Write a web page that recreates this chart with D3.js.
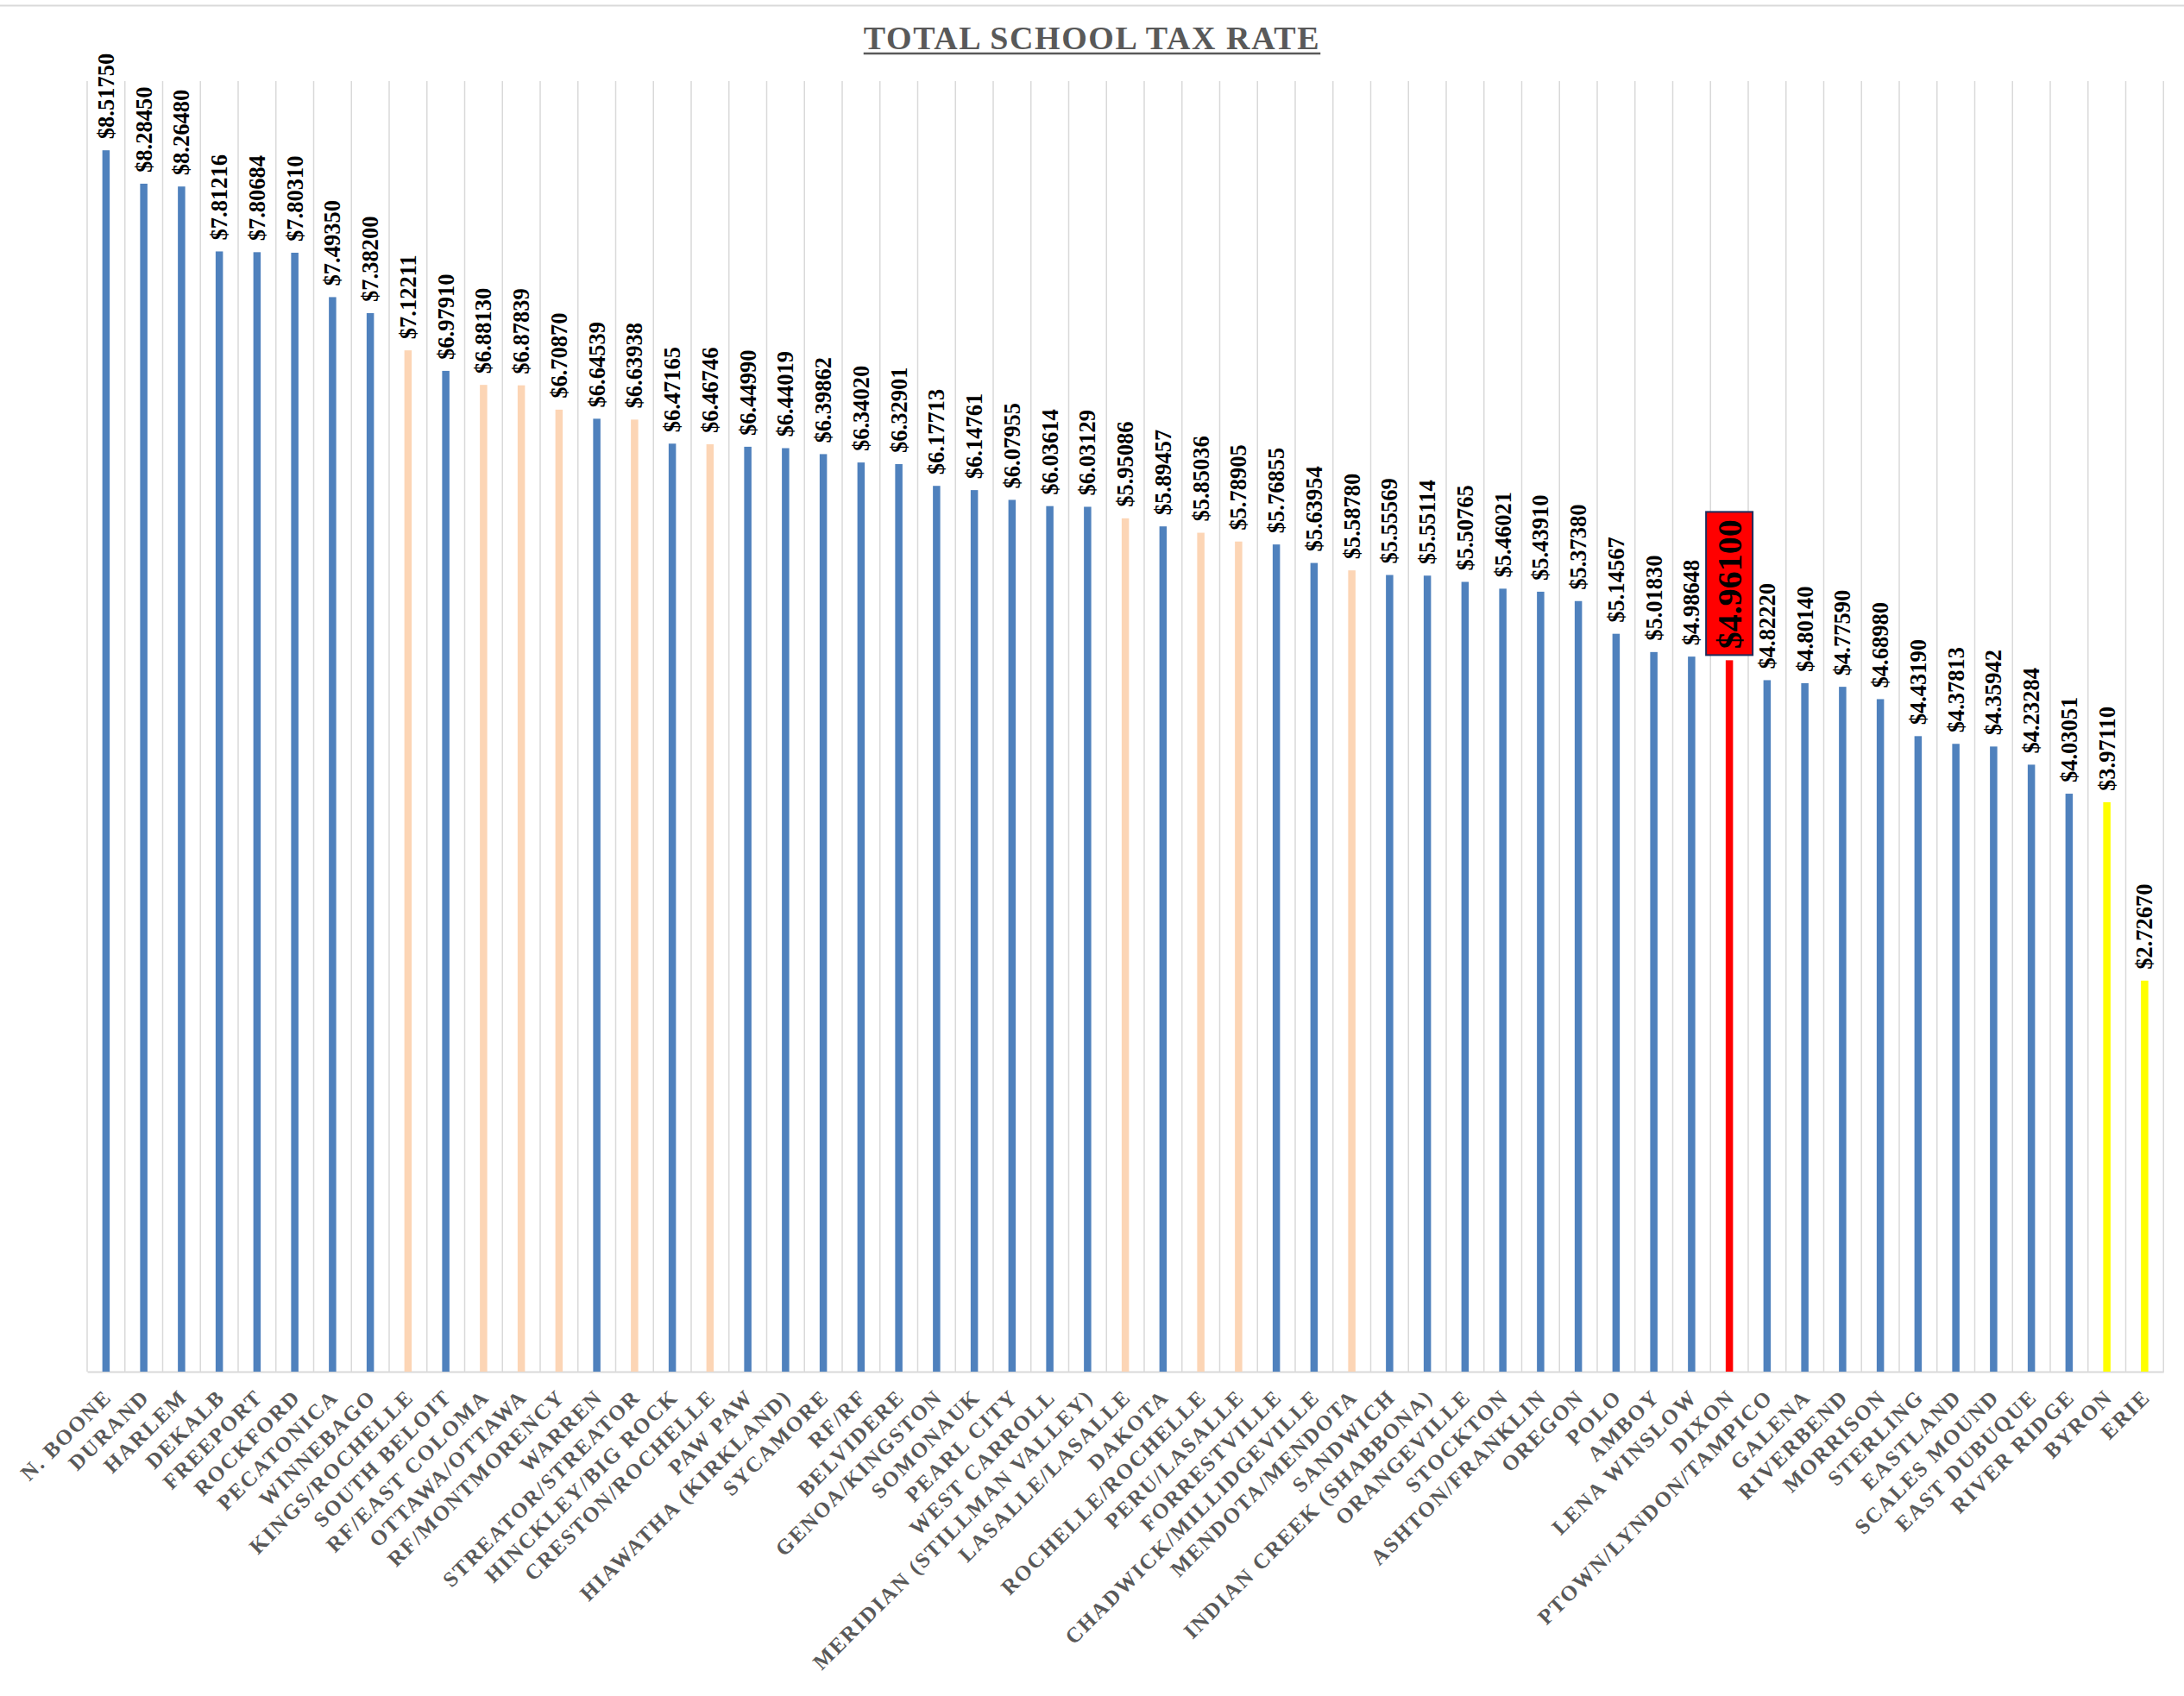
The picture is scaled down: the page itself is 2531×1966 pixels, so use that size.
<!DOCTYPE html>
<html>
<head>
<meta charset="utf-8">
<script src="https://cdn.jsdelivr.net/npm/d3@7"></script>
<style>
  body { margin: 0; background: #fff; }
  text { font-family: "Liberation Serif", "Times New Roman", serif; font-weight: bold; }
</style>
</head>
<body>
<svg id="main"></svg>
<script>
// districts, highest to lowest
var districts = ["N. BOONE","DURAND","HARLEM","DEKALB","FREEPORT","ROCKFORD","PECATONICA","WINNEBAGO",
  "KINGS/ROCHELLE","SOUTH BELOIT","RF/EAST COLOMA","OTTAWA/OTTAWA","RF/MONTMORENCY","WARREN",
  "STREATOR/STREATOR","HINCKLEY/BIG ROCK","CRESTON/ROCHELLE","PAW PAW","HIAWATHA (KIRKLAND)","SYCAMORE",
  "RF/RF","BELVIDERE","GENOA/KINGSTON","SOMONAUK","PEARL CITY","WEST CARROLL","MERIDIAN (STILLMAN VALLEY)",
  "LASALLE/LASALLE","DAKOTA","ROCHELLE/ROCHELLE","PERU/LASALLE","FORRESTVILLE","CHADWICK/MILLIDGEVILLE",
  "MENDOTA/MENDOTA","SANDWICH","INDIAN CREEK (SHABBONA)","ORANGEVILLE","STOCKTON","ASHTON/FRANKLIN",
  "OREGON","POLO","AMBOY","LENA WINSLOW","DIXON","PTOWN/LYNDON/TAMPICO","GALENA","RIVERBEND","MORRISON",
  "STERLING","EASTLAND","SCALES MOUND","EAST DUBUQUE","RIVER RIDGE","BYRON","ERIE"];

var rates = [8.51750,8.28450,8.26480,7.81216,7.80684,7.80310,7.49350,7.38200,
  7.12211,6.97910,6.88130,6.87839,6.70870,6.64539,
  6.63938,6.47165,6.46746,6.44990,6.44019,6.39862,
  6.34020,6.32901,6.17713,6.14761,6.07955,6.03614,6.03129,
  5.95086,5.89457,5.85036,5.78905,5.76855,5.63954,
  5.58780,5.55569,5.55114,5.50765,5.46021,5.43910,
  5.37380,5.14567,5.01830,4.98648,4.96100,4.82220,4.80140,4.77590,4.68980,
  4.43190,4.37813,4.35942,4.23284,4.03051,3.97110,2.72670];

// which group each bar belongs to
var groups = ["a","a","a","a","a","a","a","a",
  "b","a","b","b","b","a",
  "b","a","b","a","a","a",
  "a","a","a","a","a","a","a",
  "b","a","b","b","a","a",
  "b","a","a","a","a","a",
  "a","a","a","a","dixon","a","a","a","a",
  "a","a","a","a","a","low","low"];

var highlight = "DIXON";

var chart = {
  width: 2531,
  height: 1966,
  left: 101,
  right: 2507.25,
  top: 94,
  bottom: 1590,
  barW: 8.5
}

var svg = d3.select("#main")
  .attr("width", chart.width)
  .attr("height", chart.height)

var data = districts.map(function(d, i) {
  return { name: d, value: rates[i], group: groups[i] }
})

var x = d3.scaleBand()
  .domain(districts)
  .range([chart.left, chart.right])
  .padding(0)

var y = d3.scaleLinear()
  .domain([0, 9])
  .range([chart.bottom, chart.top])

var color = d3.scaleOrdinal()
  .domain(["a","b","dixon","low"])
  .range(["#4f81bd","#fcd5b5","#ff0000","#ffff00"])

// outer border line
svg.append("line")
  .attr("x1", 0).attr("x2", chart.width)
  .attr("y1", 6.5).attr("y2", 6.5)
  .attr("stroke", "#d9d9d9").attr("stroke-width", 2)

// vertical gridlines at band edges
var edges = districts.map(function(d) { return x(d) }).concat([chart.right])
svg.append("g").selectAll("line")
  .data(edges)
  .join("line")
  .attr("x1", function(d) { return d }).attr("x2", function(d) { return d })
  .attr("y1", chart.top).attr("y2", chart.bottom)
  .attr("stroke", "#d9d9d9").attr("stroke-width", 1.5)

// bottom axis
var xAxis = svg.append("g")
  .attr("transform", "translate(0," + chart.bottom + ")")
  .call(d3.axisBottom(x).tickSize(0).tickPadding(0))

xAxis.select(".domain").attr("stroke", "#d9d9d9").attr("stroke-width", 2)

xAxis.selectAll(".tick text")
  .attr("fill", "#595959")
  .attr("font-size", 25)
  .attr("letter-spacing", 2)
  .attr("text-anchor", "end")
  .attr("dy", null)
  .attr("y", 0)
  .attr("transform", "translate(8,31) rotate(-45)")

// bars
svg.append("g").selectAll("rect")
  .data(data)
  .join("rect")
  .attr("x", function(d) { return x(d.name) + (x.bandwidth() - chart.barW) / 2 })
  .attr("y", function(d) { return y(d.value) })
  .attr("width", chart.barW)
  .attr("height", function(d) { return y(0) - y(d.value) })
  .attr("fill", function(d) { return color(d.group) })

var fmt = function(v) { return "$" + v.toFixed(5) }

// value labels
var labels = svg.append("g").selectAll("g")
  .data(data)
  .join("g")
  .attr("transform", function(d) {
    var cx = x(d.name) + x.bandwidth() / 2
    var gap = d.name == highlight ? 13 : 13
    return "translate(" + cx + "," + (y(d.value) - gap) + ") rotate(-90)"
  })

labels.filter(function(d) { return d.name == highlight })
  .append("rect")
  .attr("x", -7)
  .attr("y", -27)
  .attr("width", 166)
  .attr("height", 54)
  .attr("fill", "#ff0000")
  .attr("stroke", "#1f2d5c")
  .attr("stroke-width", 2)

labels.append("text")
  .attr("fill", "#000")
  .attr("font-size", function(d) { return d.name == highlight ? 40 : 26.5 })
  .attr("dy", "0.34em")
  .text(function(d) { return fmt(d.value) })

// title
var title = svg.append("text")
  .attr("x", chart.width / 2)
  .attr("y", 57)
  .attr("text-anchor", "middle")
  .attr("fill", "#595959")
  .attr("font-size", 38)
  .attr("letter-spacing", 1.6)
  .text("TOTAL SCHOOL TAX RATE")

var tb = title.node().getBBox()
svg.append("line")
  .attr("x1", tb.x).attr("x2", tb.x + tb.width)
  .attr("y1", 62).attr("y2", 62)
  .attr("stroke", "#595959").attr("stroke-width", 2.5)
</script>
</body>
</html>
